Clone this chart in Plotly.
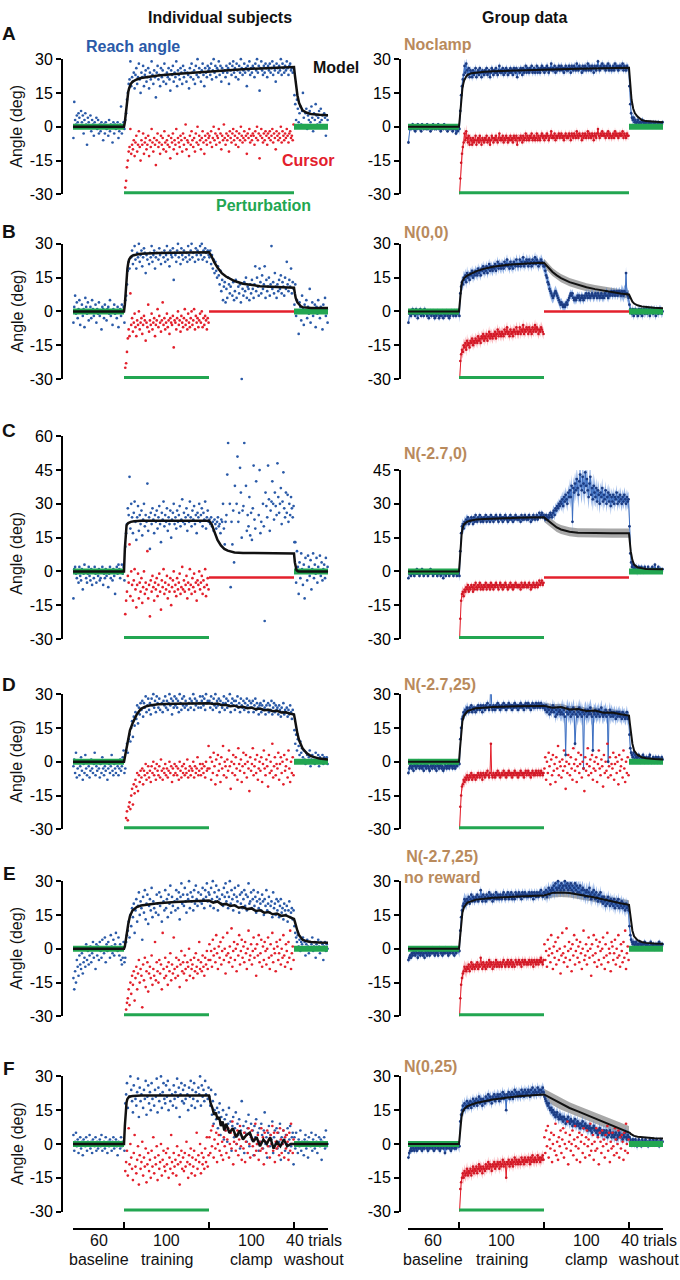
import plotly.graph_objects as go

W, H = 680, 1280
FONT = "Liberation Sans, Arial, sans-serif"

# ---------------- data ----------------
PHASE_BOUNDS = [0, 60, 160, 260, 300]
PHASE_COUNTS = ["60", "100", "100", "40 trials"]
PHASE_NAMES = ["baseline", "training", "clamp", "washout"]
PHASE_CENTERS = [30, 110, 210, 283]
PERTURB = -30

# ---- A: Noclamp (training lasts 200 trials) ----
A_ind_base = [-5, 11, 3, 1, 5, 2, 6, 4, 0, 7, 2, 5, -3, 3, 6, 1, -8, 4, 2, 0, 5, -2, 3, 1, -4, 2, 0, 4, -1, 3,
              -3, 1, -2, 2, 0, -6, 1, -3, 2, -1, 0, -4, 3, -2, 1, 0, -7, 2, -3, 1, -1, 0, 2, -5, -2, 1, 9, -3, 0, 2]
A_ind_train = [-1, 3, 6, 12, 15, 19, 21, 29, 18, 22,
               20, 24, 17, 23, 26, 19, 22, 28, 21, 15, 24, 22, 27, 18, 23, 25, 20, 22, 26, 17,
               24, 21, 29, 23, 19, 25, 22, 13, 24, 27, 21, 23, 18, 26, 22, 25, 20, 28, 23, 19,
               24, 22, 26, 21, 16, 25, 23, 27, 20, 24, 22, 29, 18, 25, 23, 21, 26, 24, 19, 27,
               22, 25, 31, 20, 24, 23, 17, 26, 22, 28, 24, 21, 25, 19, 27, 23, 30, 22, 26, 24,
               20, 25, 28, 23, 18, 26, 24, 22, 27, 25,
               26, 23, 28, 21, 25, 30, 24, 27, 22, 26, 25, 29, 23, 27, 20, 26, 24, 31, 25, 22,
               27, 24, 26, 19, 28, 25, 23, 27, 29, 24, 26, 22, 28, 25, 21, 27, 24, 30, 26, 23,
               25, 28, 24, 26, 18, 27, 25, 29, 23, 26, 24, 27, 26, 22, 28, 25, 30, 24, 27, 16,
               26, 29, 25, 23, 27, 24, 28, 26, 22, 27, 25, 28, 24, 26, 29, 23, 27, 25, 20, 28,
               26, 24, 27, 25, 30, 23, 28, 26, 24, 27, 25, 29, 26, 23, 27, 28, 25, 26, 24, 31]
A_ind_clamp = []
A_ind_wash = [14, 10, 3, 12, 8, 2, 6, 9, 1, 7, 15, 4, 0, 6, 8, -1, 5, 3, 7, 2,
              9, 4, -2, 6, 3, 10, 5, 1, 4, 7, 2, 8, 3, 5, 0, 6, 4, -4, 5, 3]
A_ind_model_t = [0, 60, 61, 62, 63, 64, 65, 66, 68, 70, 75, 80, 90, 100, 120, 140, 160, 180, 200, 220, 240, 260,
                 261, 262, 264, 266, 268, 270, 275, 280, 290, 300]
A_ind_model_v = [0, 0, 2, 6, 10, 13, 15.5, 17, 19, 20, 21, 21.6, 22.2, 22.7, 23.4, 24, 24.6, 25.1, 25.5, 25.9, 26.2, 26.5,
                 23, 19, 14, 10.5, 8.5, 7.3, 6.2, 5.7, 5.3, 5.1]

A_grp_base = [-7, -1, 0, -1, 0, 1, -1, 0, -2, 0, -1, 1, 0, -1, 0, -2, 1, 0, -1, 0, 0, -1, 1, -1, 0, 0, -2, 0, -1, 1,
              0, -1, 0, -1, 0, 1, -1, 0, -2, -1, 0, -1, 1, 0, -1, 0, -2, 0, -1, 0, -1, 0, -2, -1, 0, -1, -3, -1, -2, 0]
A_grp_train = [-1, 7, 14, 18, 21, 23, 27, 24, 28, 25, 23, 26, 22, 25, 24, 22, 25, 23, 24, 26,
               22, 24, 25, 23, 26, 24, 22, 25, 24, 23, 25, 24, 26, 23, 24, 25, 22, 24, 26, 25,
               23, 25, 24, 26, 24, 23, 25, 27, 24, 25, 24, 26, 23, 25, 24, 26, 25, 23, 25, 24,
               26, 24, 25, 23, 26, 25, 24, 26, 22, 25, 25, 24, 26, 25, 23, 26, 24, 25, 27, 24,
               26, 25, 24, 26, 25, 27, 24, 25, 26, 24, 25, 27, 24, 26, 25, 24, 26, 27, 25, 26,
               24, 26, 25, 27, 26, 24, 25, 26, 28, 25, 26, 25, 27, 24, 26, 25, 26, 27, 25, 26,
               27, 25, 26, 24, 26, 27, 25, 26, 25, 27, 26, 24, 27, 26, 25, 27, 26, 25, 28, 26,
               25, 27, 26, 26, 24, 27, 25, 26, 27, 25, 26, 28, 25, 27, 26, 25, 27, 26, 24, 27,
               26, 25, 27, 29, 26, 25, 27, 26, 28, 26, 27, 26, 25, 27, 26, 28, 25, 27, 26, 25,
               26, 27, 25, 28, 26, 27, 26, 25, 27, 26, 27, 26, 28, 25, 27, 26, 25, 27, 26, 26]
A_grp_clamp = []
A_grp_wash = [18, 10, 6, 4, 3, 4, 2, 3, 1, 2, 3, 1, 2, 2, 1, 3, 2, 1, 2, 1,
              2, 0, 1, 2, 1, 2, 1, 0, 2, 1, 1, 2, 0, 1, 2, 1, 0, 1, 1, 2]
A_grp_se = [1.2, 1, 1, 1, 1, 1.2, 3, 2, 1.8, 1.8, 1.8, 1.8, 1.8, 1.8, 1.8, 1.8, 1.8, 1.8, 1.8, 1.8,
            1.8, 1.8, 1.8, 1.8, 1.8, 1.8, 2, 1.5, 1.2, 1.2]
A_grp_model_t = [0, 60, 61, 62, 63, 64, 65, 66, 68, 70, 75, 80, 90, 100, 130, 160, 200, 260,
                 261, 262, 263, 265, 267, 270, 275, 280, 290, 300]
A_grp_model_v = [0, 0, 4, 10, 14, 17, 19, 20.5, 22, 23, 23.8, 24.1, 24.4, 24.6, 25, 25.4, 25.8, 26.2,
                 21, 16, 12, 8, 6, 4.5, 3, 2.5, 2.2, 2]
A_grp_model_se = 0

# ---- B: N(0,0) ----
B_ind_base = [-5, 2, 7, -1, 4, -3, 1, 5, -6, 0, 3, -2, 1, -7, 6, 2, -1, 4, -4, 0, 2, -3, 5, 1, -2, 0, 3, -5, 1, -1,
              4, -2, 0, -8, 2, 1, -3, 3, 0, -4, 1, 2, -1, 5, -2, 0, -6, 1, 3, -1, 0, -3, 2, -7, 0, 1, -2, 3, 0, 2]
B_ind_train = [-5, 5, 7, 12, 18, 22, 19, 38, 24, 27, 21, 25, 29, 23, 19, 26, 24, 30, 22, 25,
               27, 20, 24, 28, 26, 17, 25, 23, 33, 21, 26, 24, 29, 22, 25, 27, 19, 24, 26, 31,
               23, 28, 25, 21, 26, 34, 24, 27, 22, 25, 29, 23, 26, 20, 27, 25, 24, 28, 14, 26,
               25, 22, 27, 30, 24, 26, 21, 28, 25, 23, 27, 31, 24, 26, 22, 29, 25, 23, 27, 30,
               24, 26, 31, 22, 28, 25, 27, 23, 26, 29, 25, 30, 23, 27, 24, 28, 26, 22, 27, 25]
B_ind_clamp = [24, 27, 21, 25, 19, 23, 17, 22, 18, 15, 20, 16, 12, 18, 9, 14, 5, 11, 13, 4,
               10, 6, 15, 12, 8, 11, -31, 7, 13, 5, 9, 14, 6, -39, 11, 8, 12, 4, -30, 10,
               7, 13, 9, 15, 6, 11, 10, 5, 12, 8, 14, 10, 6, 12, 20, 9, 15, 11, 7, 19,
               13, 8, 16, 10, 12, 20, 6, 14, 9, 11, 15, 7, 12, 29, 10, 13, 8, 17, 11, 6,
               12, 9, 14, 10, 16, 8, 13, 11, 7, 15, 10, 22, 12, 9, 14, 11, 19, 8, 13, 10]
B_ind_wash = [3, 12, -2, 5, 0, -10, 4, 2, -4, 7, 1, -6, 3, 0, 5, -3, 2, -1, 10, -5,
              1, 4, -2, 0, 3, -7, 2, -1, 5, 0, -3, 2, 1, -8, 3, 0, 6, -2, 1, -5]
B_ind_model_t = [0, 60, 61, 62, 63, 64, 65, 66, 68, 70, 75, 80, 100, 130, 160, 163, 166, 170, 175, 180, 190, 200,
                 210, 220, 240, 260, 261, 262, 264, 266, 268, 270, 275, 280, 300]
B_ind_model_v = [0, 0, 3, 9, 15, 19, 21.5, 23, 24.2, 24.8, 25.3, 25.6, 25.9, 26.1, 26.3, 24.5, 22, 19.5, 17, 15.5,
                 13.5, 12.3, 11.6, 11.2, 10.8, 10.5, 8, 6, 4, 3, 2.3, 1.9, 1.6, 1.5, 1.5]

B_grp_base = [-5, -1, 0, -2, -1, 1, -1, 0, -2, 1, -1, -3, 0, -1, 1, -2, 0, -1, -2, 1, 0, -1, -2, 0, -3, -1, 0, -2, -1, 0,
              -2, -3, -1, -2, 0, -1, -3, -2, -1, -2, 0, -3, -1, -2, -1, 0, -2, -1, -3, -2, -1, 0, -1, -2, 0, -1, -2, 0, -1, 0]
B_grp_train = [-2, 8, 11, 13, 12, 15, 14, 16, 13, 17, 15, 16, 14, 17, 16, 18, 15, 17, 16, 18,
               17, 16, 19, 17, 18, 16, 19, 18, 20, 17, 19, 18, 20, 17, 19, 21, 18, 20, 19, 18,
               20, 19, 21, 18, 20, 22, 19, 21, 20, 19, 21, 20, 19, 22, 20, 21, 23, 20, 21, 19,
               22, 20, 21, 19, 22, 21, 20, 23, 21, 20, 21, 23, 20, 22, 21, 24, 20, 22, 21, 23,
               22, 20, 23, 21, 22, 20, 23, 21, 22, 24, 21, 23, 22, 20, 22, 21, 23, 22, 21, 20]
B_grp_clamp = [20, 18, 16, 15, 13, 12, 10, 9, 8, 7, 6, 7, 8, 9, 8, 7, 6, 5, 4, 3,
               4, 3, 2, 3, 2, 3, 4, 3, 5, 6, 7, 8, 7, 8, 6, 5, 6, 5, 6, 7,
               6, 7, 5, 6, 7, 6, 5, 7, 6, 8, 7, 6, 8, 7, 6, 7, 8, 7, 6, 7,
               8, 7, 6, 8, 7, 6, 7, 8, 6, 7, 6, 8, 7, 9, 7, 6, 8, 7, 8, 9,
               7, 8, 9, 7, 8, 9, 7, 8, 9, 8, 7, 9, 8, 7, 9, 8, 17, 8, 7, 6]
B_grp_wash = [3, 1, 0, -1, 1, -2, 0, 1, -1, 0, -2, 1, 0, -1, 1, -2, 0, 1, -1, 0,
              1, -1, 0, 1, -2, 0, 1, 0, -1, 1, 0, -2, 1, 0, -1, 1, 0, 1, -1, 0]
B_grp_se = [1.5, 1.5, 1.5, 1.5, 1.5, 1.5, 3, 2.5, 2.5, 2.5, 2.5, 2.5, 2.5, 2.5, 2.5, 2.5,
            3, 2.5, 2, 2, 2, 2, 2, 2, 2, 3, 2, 2, 2, 2]
B_grp_model_t = [0, 60, 61, 62, 63, 64, 66, 70, 80, 90, 100, 115, 130, 145, 160, 165, 170, 175, 180, 190, 200, 210,
                 220, 230, 240, 250, 260, 261, 262, 264, 266, 270, 275, 280, 290, 300]
B_grp_model_v = [0, 0, 4, 9, 12, 13.5, 14.8, 16, 17.8, 19, 19.8, 20.6, 21.1, 21.4, 21.6, 19.5, 17.5, 16, 14.8, 13,
                 11.7, 10.7, 9.9, 9.2, 8.6, 8, 7.5, 6.5, 5.5, 4.3, 3.5, 2.7, 2.2, 1.9, 1.6, 1.4]
B_grp_model_se = 1.8
B_clamp_cursor = 0

# ---- C: N(-2.7,0) ----
C_ind_base = [-12, 1, 2, -1, -3, 0, -5, 2, -2, -4, 1, -8, -1, 3, 0, -3, -5, -1, 2, -2, -4, 1, -6, 0, -3, 2, -1, -5, 0, -2,
              1, -4, -3, 0, 2, -6, -1, -3, 1, -2, 0, -7, -1, 2, -3, 0, -4, 1, -2, -10, 0, 2, -1, 3, 1, -3, 0, 3, -1, 2]
C_ind_train = [-4, 11, 17, 21, 28, 25, 42, 19, 30, 24, 17, 26, 31, 22, 14, 24, 29, 18, 25, 21,
               27, 16, 23, 30, 20, 25, 22, 39, 18, 24, 10, 26, 21, 28, 23, 17, 25, 22, 27, 19,
               24, 29, 21, 13, 26, 23, 31, 20, 25, 22, 28, 18, 24, 21, 27, 15, 23, 26, 30, 21,
               24, 19, 27, 22, 25, 29, 20, 23, 32, 22, 26, 21, 24, 28, 18, 25, 22, 31, 24, 20,
               27, 23, 29, 21, 25, 17, 26, 24, 30, 22, 25, 28, 20, 26, 23, 31, 19, 24, 27, 22]
C_ind_clamp = [23, 21, 24, 20, 22, 18, 23, 21, 19, 22, 24, 20, 21, 17, 23, 22, 30, 19, 12, 22,
               25, 43, 57, 70, 30, -7, 22, 12, 27, 4, 38, 65, 30, 51, 22, 26, 46, 35, 15, 27,
               29, 57, 65, 38, 18, 25, 20, 33, 16, 26, 14, 28, 47, 23, 19, 40, 61, 70, 25, 45,
               17, 22, 61, 30, 20, -22, 35, 29, 24, 47, 32, 18, 27, 31, 40, 30, 23, 35, 29, 25,
               48, 33, 26, 30, 37, 21, 31, 44, 28, 24, 35, 26, 34, 22, 30, 25, 33, 28, 24, 29]
C_ind_wash = [13, 13, -5, 9, 2, -10, 4, -3, 8, 1, -6, 3, -12, 6, 0, -4, 7, 2, -2, 5,
              -8, 1, 8, -3, 3, -1, 6, -5, 2, 0, 7, -2, 4, -4, 1, 3, -3, 6, 0, 2]
C_ind_model_t = [0, 60, 61, 62, 63, 65, 68, 72, 80, 100, 130, 160, 163, 166, 170, 174, 178, 182, 186, 190, 200, 220,
                 260, 261, 262, 263, 265, 300]
C_ind_model_v = [0, 0, 10, 18, 20.5, 21.5, 22, 22.3, 22.5, 22.5, 22.5, 22.5, 21, 18, 14, 11.5, 10, 9.2, 8.7, 8.4, 8.2,
                 8.1, 8, 4, 1.5, 0.5, 0, 0]

C_grp_base = [-3, -1, 0, -2, -1, 0, -1, -2, 0, -1, 1, -1, 0, -2, -1, 0, 1, -1, -2, 0, -1, 0, -1, -2, 0, -1, 1, 0, -1, -2,
              0, -1, 0, -1, -2, -1, 0, -1, -2, -1, 0, -3, -1, 0, -2, -1, 0, -1, -2, 0, -1, 0, -1, -2, -1, 0, -1, -2, 0, -1]
C_grp_train = [-2, 9, 17, 20, 21, 19, 22, 21, 23, 22, 24, 21, 23, 22, 24, 23, 21, 24, 22, 25,
               23, 22, 24, 23, 25, 22, 24, 23, 22, 24, 23, 25, 22, 24, 23, 24, 22, 25, 23, 24,
               22, 24, 23, 25, 24, 23, 22, 24, 25, 23, 24, 22, 24, 23, 25, 24, 23, 22, 24, 23,
               25, 23, 24, 22, 24, 23, 25, 24, 23, 24, 23, 24, 22, 25, 23, 24, 23, 25, 24, 23,
               24, 23, 25, 24, 22, 24, 23, 25, 24, 23, 24, 25, 23, 24, 26, 24, 25, 26, 24, 25]
C_grp_clamp = [24, 23, 25, 24, 23, 25, 24, 26, 25, 24, 26, 27, 25, 28, 27, 29, 28, 30, 29, 31,
               30, 32, 29, 33, 31, 34, 32, 30, 35, 33, 36, 33, 38, 22, 37, 35, 39, 36, 41, 37,
               34, 40, 43, 38, 36, 42, 39, 35, 44, 38, 41, 36, 33, 39, 42, 34, 37, 32, 38, 35,
               33, 37, 31, 36, 34, 30, 35, 33, 37, 31, 34, 32, 36, 30, 33, 35, 31, 34, 29, 33,
               31, 34, 30, 33, 32, 35, 30, 33, 31, 34, 32, 30, 33, 31, 34, 32, 30, 33, 31, 32]
C_grp_wash = [20, 8, 4, 2, 3, 1, 2, 1, 2, 0, 1, 2, 1, 0, 2, 1, 1, 0, 2, 1,
              0, 1, 2, 1, 0, 1, 1, 2, 0, 1, 3, 1, 0, 1, 2, 0, 1, 1, 0, 1]
C_grp_se = [1, 1, 1, 1, 1, 1, 2.5, 1.5, 1.5, 1.5, 1.5, 1.5, 1.5, 1.5, 1.5, 1.5,
            1.5, 2.5, 3.5, 5, 6, 5.5, 4.5, 4, 3.5, 3.5, 2, 1.5, 1.2, 1.2]
C_grp_model_t = [0, 60, 61, 62, 63, 64, 66, 70, 80, 90, 100, 130, 160, 165, 170, 175, 180, 190, 200, 220, 240, 260,
                 261, 262, 264, 266, 270, 275, 280, 300]
C_grp_model_v = [0, 0, 5, 12, 16, 19, 21, 22.2, 23, 23.3, 23.5, 23.8, 24, 22.5, 20.8, 19.5, 18.6, 17.6, 17.2, 17,
                 17, 17, 13, 9, 5, 3, 1.8, 1.3, 1.1, 1]
C_grp_model_se = 2
C_clamp_cursor = -2.7

# ---- D: N(-2.7,25) ----
D_ind_base = [-2, 1, -5, 4, -7, -3, 0, -6, -2, 2, -4, -8, -1, -5, 3, -3, -6, 0, -2, -7, -4, 1, -3, -5, -1, 4, -6, -2, -4, 0,
              -3, -7, -1, -5, 2, -3, -6, -2, -4, 0, -8, -3, -1, -5, -2, 3, -4, -6, -1, -3, -5, 0, -2, -6, -3, 1, -4, -2, 2, 5]
D_ind_train = [-5, -3, 5, 8, 4, 10, 12, 9, 15, 18, 11, 20, 16, 22, 19, 25, 17, 24, 21, 26,
               23, 27, 20, 26, 24, 29, 22, 25, 28, 23, 26, 21, 28, 25, 30, 24, 27, 22, 29, 26,
               24, 28, 23, 31, 26, 22, 27, 25, 29, 24, 27, 23, 26, 30, 25, 28, 21, 27, 24, 29,
               25, 28, 24, 27, 22, 30, 26, 23, 28, 25, 29, 24, 27, 25, 31, 23, 26, 28, 24, 27,
               26, 30, 23, 28, 25, 27, 32, 24, 26, 29, 24, 27, 29, 25, 28, 23, 30, 26, 27, 37]
D_ind_clamp = [27, 24, 29, 26, 23, 28, 25, 30, 24, 27, 25, 28, 22, 27, 31, 24, 26, 29, 23, 26,
               28, 24, 27, 25, 30, 22, 26, 28, 25, 27, 23, 27, 25, 29, 24, 26, 22, 28, 25, 24,
               27, 23, 26, 24, 28, 25, 22, 27, 24, 26, 24, 27, 22, 25, 28, 23, 26, 24, 21, 25,
               26, 22, 25, 23, 27, 24, 21, 25, 23, 26, 22, 25, 23, 27, 21, 24, 26, 22, 25, 23,
               24, 21, 25, 23, 20, 24, 22, 26, 21, 23, 22, 24, 20, 23, 21, 25, 22, 19, 23, 21]
D_ind_wash = [14, 8, 12, 5, 10, 7, 3, 9, 4, 6, 2, 5, 1, -1, 4, 3, 0, 2, 5, -2,
              1, 3, 0, 2, -1, 4, 1, 0, 3, -2, 2, 1, 0, 3, -1, 2, 0, 1, 2, -1]
D_clamp_cursor = [-3, 2, -8, 0, -5, 4, -2, -10, 1, -6, 3, -4, -1, -9, 2, -3, 7, -6, 0, -2,
                  -7, 1, -4, 5, -2, -12, 0, -5, 3, -1, -6, 2, -3, -8, 6, -1, -4, 1, -9, -2,
                  4, -5, -1, 3, -7, 0, -3, -13, 2, -4, -1, 6, -6, -2, 1, -5, 3, -8, -3, 0,
                  -4, 2, -9, -1, 5, -3, -6, 1, -2, -11, 3, -5, 0, -4, 8, -7, -2, 2, -6, -1,
                  -3, 4, -8, -1, 2, -5, 0, -10, 3, -4, -2, 1, -7, 5, -3, -9, 0, -5, 2, -6]
D_ind_model_t = [0, 60, 61, 62, 63, 65, 67, 70, 75, 80, 85, 90, 100, 120, 140, 160, 165, 170, 175, 180, 185, 190, 195,
                 200, 205, 210, 215, 220, 225, 230, 235, 240, 245, 250, 255, 260, 261, 262, 264, 266, 268, 270, 275,
                 280, 290, 300]
D_ind_model_v = [0, 0, 2, 4, 7, 11, 14, 17, 21, 23.5, 24.5, 25, 25.5, 25.8, 26, 26, 25.6, 25.8, 25.1, 25.3, 24.6, 24.9,
                 24.2, 24.4, 23.8, 24, 23.3, 23.6, 22.9, 23.1, 22.4, 22.6, 21.9, 22, 21.4, 21, 19, 16.5, 12.5, 9.5,
                 7.5, 6, 3.8, 2.5, 1.4, 1]

D_grp_base = [-5, -3, -2, -1, -3, -2, -4, -1, -2, -3, -1, -2, 0, -3, -2, -1, -3, -2, -4, -1, -2, -3, -1, -2, -3, -4, -2, -1, -3, -2,
              -1, -3, -2, -4, -1, -2, -3, -2, -1, -3, -2, -4, -3, -1, -2, -3, -2, -1, -3, -2, -1, -2, -3, -1, -2, -3, -1, -2, 0, -1]
D_grp_train = [-1, 10, 15, 19, 20, 22, 21, 23, 22, 24, 23, 22, 24, 23, 25, 22, 24, 23, 24, 22,
               24, 23, 25, 24, 23, 25, 24, 22, 25, 24, 23, 25, 24, 26, 24, 23, 25, 38, 24, 23,
               25, 24, 23, 25, 24, 26, 24, 25, 23, 24, 25, 24, 26, 24, 25, 23, 25, 24, 26, 25,
               24, 25, 23, 25, 24, 26, 25, 24, 25, 23, 25, 24, 26, 25, 24, 25, 23, 25, 26, 24,
               25, 26, 24, 25, 23, 25, 26, 24, 25, 24, 26, 25, 24, 26, 25, 24, 26, 25, 24, 25]
D_grp_clamp = [24, 23, 25, 22, 24, 23, 21, 24, 22, 23, 25, 22, 24, 20, 23, 21, 24, 22, 23, 21,
               22, 24, 21, 23, 20, 3, 22, 24, 21, 23, 22, 20, 23, 21, 24, 22, 8, 21, 23, 20,
               22, 24, 21, 23, 20, 22, -3, 21, 23, 22, 20, 23, 21, 22, 24, 21, 20, 5, 22, 21,
               23, 20, 22, 21, 23, 20, 22, 24, 21, 20, 22, 21, 23, 20, 22, 0, 21, 23, 20, 22,
               21, 20, 22, 21, 19, 22, 20, 21, 22, 20, 21, 19, 22, 20, 21, 19, 20, 22, 19, 20]
D_grp_wash = [12, 6, 4, 3, 2, 4, 1, 3, 2, 1, 2, 3, 1, 0, 2, 1, 3, 2, 0, 1,
              2, 1, 0, 2, 3, 1, 0, 1, 2, 0, 1, 2, 1, 0, 2, 1, 1, 0, 2, 1]
D_grp_se = [1.5, 1.5, 1.5, 1.5, 1.5, 1.5, 2.5, 1.8, 1.8, 1.8, 1.8, 1.8, 1.8, 1.8, 1.8, 1.8,
            2.5, 3, 4, 4, 4, 4, 3.5, 3.5, 3, 3, 2, 1.5, 1.5, 1.5]
D_grp_model_t = [0, 60, 61, 62, 63, 64, 66, 70, 80, 100, 130, 160, 170, 180, 190, 200, 210, 220, 230, 240, 250, 260,
                 261, 262, 264, 266, 270, 275, 280, 290, 300]
D_grp_model_v = [0, 0, 5, 11, 15, 18, 20.5, 22.5, 23.8, 24.3, 24.6, 24.8, 24, 24.3, 23.2, 23.4, 22.5, 22.7, 21.8,
                 21.9, 21.1, 20.5, 17, 13, 8, 5, 3, 2, 1.6, 1.2, 1]
D_grp_model_se = 1.5

# ---- E: N(-2.7,25) no reward ----
E_ind_base = [-13, -18, -10, -15, -5, -8, -12, -3, -7, -9, -2, -11, -6, -4, -8, 2, -5, -1, -7, -3,
              1, -6, -2, 3, -4, 0, -9, 2, -3, 1, -5, 3, -1, -4, 4, 0, -2, 5, -6, 2,
              -1, 3, 0, -4, 6, 1, -2, 4, -3, 2, 7, 0, -1, 5, -3, 2, -5, -7, -4, 3]
E_ind_train = [-6, -4, 3, 6, 8, 12, 5, 15, 10, 18, 14, 20, 7, 17, 22, 12, 19, 25, 15, 21,
               18, 4, 23, 16, 26, 13, 20, 24, 11, 19, 22, 17, 27, 14, 21, 18, 33, 16, 24, 20,
               15, 25, 19, 23, 12, 37, 21, 17, 26, 18, 22, 14, 24, 20, 28, 16, 23, 19, 35, 21,
               17, 26, 22, 18, 25, 13, 23, 29, 20, 24, 19, 27, 21, 16, 24, 22, 30, 18, 25, 21,
               23, 17, 26, 20, 28, 22, 19, 25, 33, 21, 24, 20, 27, 22, 18, 26, 23, 29, 21, 25]
E_ind_clamp = [24, 19, 27, 22, 30, 18, 25, 21, 28, 23, 17, 26, 22, 36, 20, 24, 19, 27, 23, 29,
               21, 25, 18, 23, 30, 20, 26, 22, 17, 24, 27, 19, 23, 21, 28, 16, 24, 20, 25, 18,
               22, 26, 19, 24, 17, 23, 29, 20, 21, 25, 18, 22, 26, 19, 23, 16, 21, 25, 18, 22,
               20, 17, 24, 21, 15, 22, 19, 26, 17, 20, 23, 16, 19, 21, 14, 25, 18, 20, 15, 22,
               17, 21, 14, 19, 22, 16, 18, 13, 20, 17, 15, 19, 12, 17, 21, 14, 16, 18, 13, 17]
E_ind_wash = [10, 7, 5, 3, 6, 1, 4, -1, 3, 2, 5, 0, 3, -3, 2, 4, 1, -2, 3, 0,
              2, 5, -1, 1, 3, -4, 2, 0, 4, 1, -2, 3, 0, 2, -5, 1, 3, -1, 2, 0]
E_clamp_cursor = [2, -5, -1, -8, 4, -3, 0, -6, 6, -2, -9, 1, -4, 3, -7, -1, 5, -5, 0, -11,
                  -3, 7, -2, -6, 1, -4, 9, -8, -1, 3, -5, 0, -10, 2, -3, 6, -7, -1, 4, -4,
                  1, -6, 3, -2, -9, 0, 8, -5, -3, 2, -7, -1, 5, -4, 0, -12, 2, -3, 6, -6,
                  -2, 4, -8, 1, -5, 3, -1, -7, 0, 5, -4, -9, 2, -3, 7, -6, 0, -2, -10, 3,
                  1, -5, -2, 4, -7, 0, -4, 6, -3, -8, 2, -1, -6, 3, -4, 8, -9, -2, 1, -5]
E_ind_model_t = [0, 60, 61, 62, 63, 65, 67, 70, 75, 80, 90, 100, 120, 140, 160, 165, 170, 175, 180, 185, 190, 195,
                 200, 205, 210, 215, 220, 225, 230, 235, 240, 245, 250, 255, 260, 261, 262, 264, 266, 268, 270,
                 275, 280, 290, 300]
E_ind_model_v = [0, 0, 1, 3, 6, 11, 14.5, 17, 18.5, 19.2, 19.8, 20.2, 20.7, 21.1, 21.4, 20.5, 21, 19.6, 19.9, 19,
                 19.3, 18.2, 18.5, 17.6, 17.9, 16.8, 17.1, 16, 16.3, 15.3, 15.6, 14.6, 14.9, 14, 13.2, 12, 10.5,
                 8, 6, 4.8, 4, 3.3, 3, 2.8, 2.7]

E_grp_base = [-5, -4, -3, -4, -2, -3, -1, -2, -3, -1, -2, -4, -2, -1, -3, -2, -1, -3, -2, -4, -1, -2, -3, -1, -2, -3, -1, -2, 0, -2,
              -1, -3, -2, -1, -2, -3, -1, 0, -2, -1, -3, -2, -1, -2, 0, -1, -2, -3, -1, -2, -1, 0, -2, -1, -3, -1, -2, 0, -1, -1]
E_grp_train = [-1, 8, 14, 17, 19, 20, 22, 21, 20, 22, 21, 23, 20, 22, 24, 21, 23, 22, 21, 23,
               22, 24, 21, 23, 22, 26, 23, 21, 24, 22, 23, 21, 24, 22, 23, 25, 22, 24, 23, 21,
               24, 22, 23, 25, 22, 24, 23, 22, 24, 23, 22, 24, 25, 23, 22, 24, 23, 25, 22, 24,
               23, 25, 22, 24, 23, 22, 25, 24, 23, 24, 25, 23, 24, 22, 25, 24, 23, 25, 24, 23,
               24, 23, 25, 24, 23, 25, 24, 22, 25, 24, 23, 25, 24, 23, 25, 24, 26, 24, 23, 25]
E_grp_clamp = [25, 24, 26, 23, 25, 27, 24, 26, 25, 27, 26, 28, 25, 29, 27, 26, 30, 27, 28, 26,
               29, 27, 28, 26, 30, 28, 27, 29, 26, 28, 27, 29, 26, 28, 25, 27, 29, 26, 28, 25,
               27, 25, 28, 24, 26, 27, 24, 26, 23, 25, 26, 23, 25, 27, 24, 22, 25, 23, 26, 24,
               22, 25, 23, 21, 24, 22, 25, 21, 23, 20, 23, 21, 19, 22, 20, 23, 21, 19, 22, 20,
               21, 19, 22, 18, 20, 21, 19, 22, 18, 20, 19, 21, 18, 20, 19, 17, 20, 18, 19, 17]
E_grp_wash = [10, 6, 4, 3, 2, 3, 1, 2, 3, 1, 2, 1, 3, 2, 1, 2, 0, 2, 3, 1,
              2, 1, 2, 0, 1, 3, 2, 1, 2, 1, 0, 2, 1, 2, 1, 3, 1, 2, 1, 2]
E_grp_se = [1.5, 1.5, 1.5, 1.5, 1.5, 1.5, 3, 2, 2, 2, 2, 2, 2, 2, 2, 2,
            3, 3.5, 3.5, 3.5, 3.5, 3.5, 3, 3, 3, 3, 2, 1.5, 1.5, 1.5]
E_grp_model_t = [0, 60, 61, 62, 63, 64, 66, 70, 80, 100, 130, 160, 170, 180, 190, 200, 210, 220, 230, 240, 250, 260,
                 261, 262, 264, 266, 270, 275, 280, 290, 300]
E_grp_model_v = [0, 0, 4, 9, 13, 16, 18.5, 20.5, 21.8, 22.6, 23.2, 23.6, 24.8, 25, 24.7, 24.2, 23.4, 22.7, 21.8, 21,
                 20.2, 19.5, 16, 12.5, 8, 5.5, 3.8, 3, 2.6, 2.3, 2.2]
E_grp_model_se = 2

# ---- F: N(0,25) ----
F_ind_base = [4, -3, 1, 5, -1, 2, -4, 0, 3, -2, 1, -5, 2, 0, -1, 3, -3, 1, 0, 4, -2, 1, -4, 2, 0, -1, 3, -3, 1, -2,
              0, 2, -1, 4, -3, 0, 1, -2, 3, 0, -4, 1, -1, 2, 0, -3, 1, 3, -2, 0, 2, -1, -5, 1, 0, -2, 3, -1, 1, 0]
F_ind_train = [-3, 18, 22, 27, 16, 37, 21, 30, 24, 19, 14, 26, 34, 20, 17, 23, 29, 12, 25, 19,
               22, 31, 16, 24, 20, 28, 13, 21, 26, 18, 23, 15, 27, 20, 33, 17, 24, 21, 29, 14,
               25, 19, 22, 30, 16, 23, 27, 20, 18, 26, 21, 28, 15, 24, 19, 34, 22, 17, 26, 20,
               23, 16, 29, 21, 25, 12, 22, 27, 19, 24, 18, 26, 20, 31, 22, 15, 25, 21, 28, 17,
               24, 20, 27, 16, 23, 35, 19, 25, 22, 30, 17, 26, 21, 24, 19, 28, 22, 33, 20, 25]
F_ind_clamp = [21, 17, 24, 13, 19, 9, 15, 22, 11, 16, 7, 14, 18, 4, 12, 9, 15, 2, 11, 6,
               13, 1, 9, 16, 5, 10, -3, 8, 12, 3, 7, 14, 0, 9, 4, 11, -2, 6, 19, 3,
               8, -4, 5, 10, 1, 7, 13, -1, 4, 9, 2, 6, -5, 8, 3, 11, 0, 5, -3, 7,
               1, 9, 4, -2, 6, 14, 0, 3, -6, 5, 8, -1, 4, 2, 10, -4, 3, 6, 0, 7,
               -2, 5, 1, 9, -7, 3, 0, 6, 2, -3, 4, 0, 7, -4, 2, 8, -1, 3, 5, -9]
F_ind_wash = [3, -2, 5, 0, -4, 2, -1, 6, -3, 1, 0, -5, 2, 4, -2, 1, -6, 3, 0, -1,
              5, -3, 2, 0, -2, 4, 1, -4, 0, 3, -1, 2, -7, 1, 0, 3, -2, 6, -1, 0]
F_clamp_cursor = [3, -4, 6, -1, 8, -6, 2, -2, 5, -8, 0, 4, -3, 9, -5, 1, -7, 3, -1, 6,
                  -4, 2, 7, -6, 0, 5, -2, 10, -9, 1, 4, -3, 0, 6, -5, 2, 8, -1, -7, 3,
                  -2, 5, -8, 1, 4, -4, 7, 0, -6, 3, 6, -1, 2, -5, 9, -3, 0, 4, -7, 1,
                  -3, 7, -2, 3, -9, 5, 1, -4, 6, -1, 2, -6, 4, 0, 8, -3, 5, -8, 1, -2,
                  5, -1, -5, 7, 2, -4, 0, 6, -6, 3, -2, 4, 1, -7, 5, -3, 9, 0, -4, 2]
F_ind_model_t = [0, 60, 61, 62, 63, 64, 66, 70, 80, 100, 160, 162, 164, 166, 168, 170, 172, 174, 176, 178, 180, 184,
                 188, 192, 196, 200, 204, 208, 212, 216, 220, 224, 228, 232, 236, 240, 244, 248, 252, 256, 260, 300]
F_ind_model_v = [0, 0, 8, 15, 18.5, 20, 21, 21.3, 21.5, 21.5, 21.5, 18, 16, 13, 14, 11, 12, 8, 10, 6, 9, 5, 7, 3, 6,
                 2, 4, 5, 1, 3, -1, 2, 0, 3, -2, 1, -1, 2, -1, 0, 0, 0]

F_grp_base = [-6, -4, -3, -2, -3, -1, -2, -3, -1, -2, -3, -1, -2, 0, -2, -1, -3, -2, -1, -2, 0, -1, -2, -3, -1, -2, -1, 0, -2, -1,
              -3, -1, -2, 0, -1, -2, -1, -3, -2, -1, 0, -2, -1, -4, -1, -2, -1, 0, -2, -1, -3, -2, -1, 0, -2, -1, -2, -1, 0, -1]
F_grp_train = [-1, 10, 13, 15, 17, 15, 18, 16, 17, 19, 16, 18, 17, 19, 16, 18, 20, 17, 19, 18,
               20, 17, 19, 21, 18, 20, 19, 17, 20, 19, 18, 21, 19, 20, 22, 19, 21, 20, 18, 21,
               20, 22, 19, 21, 20, 22, 21, 19, 22, 20, 21, 23, 20, 22, 21, 15, 22, 21, 23, 20,
               22, 21, 23, 20, 22, 24, 21, 23, 22, 21, 23, 22, 21, 24, 22, 23, 21, 24, 22, 23,
               22, 24, 23, 21, 24, 22, 25, 23, 22, 24, 23, 22, 25, 23, 24, 22, 24, 23, 25, 23]
F_grp_clamp = [21, 20, 19, 18, 17, 18, 16, 15, 16, 14, 15, 13, 14, 12, 13, 14, 12, 11, 13, 12,
               11, 12, 10, 12, 11, 9, 11, 10, 12, 10, 9, 11, 10, 8, 10, 9, 11, 8, 9, 10,
               8, 9, 7, 9, 8, 10, 7, 8, 9, 7, 8, 6, 7, 8, 6, 7, 5, 7, 8, 6,
               7, 5, 6, 4, 6, 7, 5, 6, 4, 5, 6, 4, 5, 6, 3, 5, 4, 6, 5, 3,
               4, 5, 3, 4, 5, 2, 4, 3, 5, 4, 3, 4, 2, 4, 3, 5, 3, 2, 4, 3]
F_grp_wash = [3, 2, 1, 0, 2, 1, 0, 2, 1, -1, 1, 2, 0, 1, -1, 2, 1, 0, 1, 2,
              0, 1, -1, 1, 2, 0, 1, 0, 2, 1, 0, 1, 2, 0, 1, -1, 1, 2, 0, 1]
F_grp_se = [1.5, 1.5, 1.5, 1.5, 1.5, 1.5, 3, 2.5, 2.5, 2.5, 2.5, 2.5, 2.5, 2.5, 2.5, 2.5,
            2.5, 2.5, 2.5, 2.5, 2.5, 2.5, 2.5, 2.5, 2.5, 2.5, 2, 1.5, 1.5, 1.5]
F_grp_model_t = [0, 60, 61, 62, 63, 64, 66, 70, 80, 100, 130, 160, 165, 170, 175, 180, 190, 200, 210, 220, 230, 240,
                 250, 260, 261, 262, 264, 266, 270, 275, 280, 290, 300]
F_grp_model_v = [0, 0, 4, 9, 12, 14, 15.5, 16.8, 18.2, 19.8, 21.2, 22, 21, 19.8, 18.7, 17.7, 16, 14.5, 13, 11.5, 10,
                 8.5, 7, 5.5, 5, 4.5, 4, 3.6, 3.2, 3, 2.8, 2.6, 2.5]
F_grp_model_se = 2.5

LETTERS = ["A", "B", "C", "D", "E", "F"]
CONDITIONS = ["Noclamp", "N(0,0)", "N(-2.7,0)", "N(-2.7,25)", "N(-2.7,25)<br>no reward", "N(0,25)"]

# ---------------- styling / layout ----------------
BLUE = "#2a5aa8"
BLUE_DARK = "#1c3c82"
BLUE_LINE = "#3c6ec0"
RED = "#e3202c"
RED_DARK = "#d01826"
GREEN = "#22a651"
TAN = "#b98a5c"
BLACK = "#111111"
S = 2.283  # px per degree

ROWS = [
    dict(zero=120.35, ind_rng=[-30, 30], grp_rng=[-30, 30], letter_y=26, cond_y=36.7),
    dict(zero=307.5, ind_rng=[-30, 30], grp_rng=[-30, 30], letter_y=227, cond_y=228),
    dict(zero=571.0, ind_rng=[-30, 60], grp_rng=[-30, 45], letter_y=428, cond_y=451.7, title_y=553),
    dict(zero=763.9, ind_rng=[-30, 30], grp_rng=[-30, 30], letter_y=686, cond_y=686),
    dict(zero=953.4, ind_rng=[-30, 30], grp_rng=[-30, 30], letter_y=877, cond_y=870.5),
    dict(zero=1151.3, ind_rng=[-30, 30], grp_rng=[-30, 30], letter_y=1075, cond_y=1073),
]

DATA = {
    "A": dict(ib=A_ind_base, it=A_ind_train, ic=A_ind_clamp, iw=A_ind_wash, imt=A_ind_model_t, imv=A_ind_model_v,
              gb=A_grp_base, gt=A_grp_train, gc=A_grp_clamp, gw=A_grp_wash, gse=A_grp_se,
              gmt=A_grp_model_t, gmv=A_grp_model_v, gmse=A_grp_model_se, cur=None),
    "B": dict(ib=B_ind_base, it=B_ind_train, ic=B_ind_clamp, iw=B_ind_wash, imt=B_ind_model_t, imv=B_ind_model_v,
              gb=B_grp_base, gt=B_grp_train, gc=B_grp_clamp, gw=B_grp_wash, gse=B_grp_se,
              gmt=B_grp_model_t, gmv=B_grp_model_v, gmse=B_grp_model_se, cur=B_clamp_cursor),
    "C": dict(ib=C_ind_base, it=C_ind_train, ic=C_ind_clamp, iw=C_ind_wash, imt=C_ind_model_t, imv=C_ind_model_v,
              gb=C_grp_base, gt=C_grp_train, gc=C_grp_clamp, gw=C_grp_wash, gse=C_grp_se,
              gmt=C_grp_model_t, gmv=C_grp_model_v, gmse=C_grp_model_se, cur=C_clamp_cursor),
    "D": dict(ib=D_ind_base, it=D_ind_train, ic=D_ind_clamp, iw=D_ind_wash, imt=D_ind_model_t, imv=D_ind_model_v,
              gb=D_grp_base, gt=D_grp_train, gc=D_grp_clamp, gw=D_grp_wash, gse=D_grp_se,
              gmt=D_grp_model_t, gmv=D_grp_model_v, gmse=D_grp_model_se, cur=D_clamp_cursor),
    "E": dict(ib=E_ind_base, it=E_ind_train, ic=E_ind_clamp, iw=E_ind_wash, imt=E_ind_model_t, imv=E_ind_model_v,
              gb=E_grp_base, gt=E_grp_train, gc=E_grp_clamp, gw=E_grp_wash, gse=E_grp_se,
              gmt=E_grp_model_t, gmv=E_grp_model_v, gmse=E_grp_model_se, cur=E_clamp_cursor),
    "F": dict(ib=F_ind_base, it=F_ind_train, ic=F_ind_clamp, iw=F_ind_wash, imt=F_ind_model_t, imv=F_ind_model_v,
              gb=F_grp_base, gt=F_grp_train, gc=F_grp_clamp, gw=F_grp_wash, gse=F_grp_se,
              gmt=F_grp_model_t, gmv=F_grp_model_v, gmse=F_grp_model_se, cur=F_clamp_cursor),
}


def seq(start, vals):
    return [start + i + 0.5 for i in range(len(vals))]


def pxx(v):
    return v / W


def pxy(v):
    return 1 - v / H


fig = go.Figure()
annotations = []
layout_axes = {}


def ann(text, x, y, color=BLACK, size=16, bold=True, xanchor="center", angle=0):
    annotations.append(dict(
        text=f"<b>{text}</b>" if bold else text, x=pxx(x), y=pxy(y), xref="paper", yref="paper",
        xanchor=xanchor, yanchor="middle", showarrow=False, textangle=angle,
        font=dict(family=FONT, size=size, color=color)))


def add(tr, xa, ya):
    tr.update(xaxis=xa, yaxis=ya, showlegend=False, hoverinfo="skip")
    fig.add_trace(tr)


DOT = 2.7

for r, (letter, row) in enumerate(zip(LETTERS, ROWS)):
    d = DATA[letter]
    train_end = 60 + len(d["it"])
    for c in (0, 1):
        k = 2 * r + c + 1
        xa = "x" if k == 1 else f"x{k}"
        ya = "y" if k == 1 else f"y{k}"
        rng = row["ind_rng"] if c == 0 else row["grp_rng"]
        top = row["zero"] - rng[1] * S
        bot = row["zero"] - rng[0] * S
        x0, x1 = (73, 328) if c == 0 else (408, 663)
        xkey = "xaxis" if k == 1 else f"xaxis{k}"
        ykey = "yaxis" if k == 1 else f"yaxis{k}"
        xdict = dict(domain=[pxx(x0), pxx(x1)], range=[0, 300], showgrid=False, zeroline=False)
        if r == len(ROWS) - 1:
            xdict.update(visible=True, anchor="free", position=pxy(1237), showline=True, linecolor="black",
                         linewidth=2, ticks="inside", ticklen=6, tickwidth=2, tickcolor="black",
                         tickvals=PHASE_BOUNDS, showticklabels=False)
        else:
            xdict.update(visible=False, anchor=ya)
        layout_axes[xkey] = xdict
        tv = list(range(rng[0], rng[1] + 1, 15))
        layout_axes[ykey] = dict(
            domain=[pxy(bot), pxy(top)], range=rng, anchor="free", position=pxx(62 if c == 0 else 400),
            showline=True, linecolor="black", linewidth=1.8, ticks="outside", ticklen=5, tickwidth=1.8,
            tickcolor="black", tickvals=tv, ticktext=[str(v) for v in tv], showgrid=False, zeroline=False,
            tickfont=dict(family=FONT, size=16, color="black"))

        green = go.Scatter(x=[0, 60, None, 60, train_end, None, 260, 300],
                           y=[0, 0, None, PERTURB, PERTURB, None, 0, 0], mode="lines",
                           line=dict(color=GREEN, width=6))
        if c == 0:
            rx = seq(0, d["ib"]) + seq(60, d["it"]) + seq(160, d["ic"]) + seq(260, d["iw"])
            ry = d["ib"] + d["it"] + d["ic"] + d["iw"]
            add(go.Scatter(x=rx, y=ry, mode="markers", cliponaxis=False,
                           marker=dict(size=DOT, color=BLUE)), xa, ya)
            add(go.Scatter(x=seq(60, d["it"]), y=[v + PERTURB for v in d["it"]], mode="markers",
                           cliponaxis=False, marker=dict(size=DOT, color=RED)), xa, ya)
            if isinstance(d["cur"], list):
                add(go.Scatter(x=seq(160, d["cur"]), y=d["cur"], mode="markers", cliponaxis=False,
                               marker=dict(size=DOT, color=RED)), xa, ya)
            elif d["cur"] is not None:
                add(go.Scatter(x=[160, 260], y=[d["cur"], d["cur"]], mode="lines",
                               line=dict(color=RED, width=2.5)), xa, ya)
            add(green, xa, ya)
            add(go.Scatter(x=d["imt"], y=d["imv"], mode="lines", line=dict(color=BLACK, width=2.5)), xa, ya)
        else:
            gx = seq(0, d["gb"]) + seq(60, d["gt"]) + seq(160, d["gc"]) + seq(260, d["gw"])
            gy = d["gb"] + d["gt"] + d["gc"] + d["gw"]
            se = [d["gse"][int(x // 10)] for x in gx]
            if d["gmse"]:
                mt = [t for t in d["gmt"] if 160 <= t <= 260]
                mv = [v for t, v in zip(d["gmt"], d["gmv"]) if 160 <= t <= 260]
                add(go.Scatter(x=mt + mt[::-1], y=[v + d["gmse"] for v in mv] + [v - d["gmse"] for v in mv[::-1]],
                               mode="lines", fill="toself", fillcolor="rgba(110,110,110,0.6)",
                               line=dict(width=0)), xa, ya)
            add(go.Scatter(x=gx + gx[::-1], y=[v + s for v, s in zip(gy, se)] + [v - s for v, s in zip(gy, se)][::-1],
                           mode="lines", fill="toself", fillcolor="rgba(85,135,215,0.6)",
                           line=dict(width=0)), xa, ya)
            tx = seq(60, d["gt"])
            ty = [v + PERTURB for v in d["gt"]]
            tse = [d["gse"][int(x // 10)] for x in tx]
            add(go.Scatter(x=tx + tx[::-1], y=[v + s for v, s in zip(ty, tse)] + [v - s for v, s in zip(ty, tse)][::-1],
                           mode="lines", fill="toself", fillcolor="rgba(245,120,130,0.5)",
                           line=dict(width=0)), xa, ya)
            add(go.Scatter(x=gx, y=gy, mode="lines+markers", cliponaxis=False,
                           line=dict(color=BLUE_LINE, width=1), marker=dict(size=2.8, color=BLUE_DARK)), xa, ya)
            add(go.Scatter(x=tx, y=ty, mode="lines+markers", cliponaxis=False,
                           line=dict(color=RED, width=1), marker=dict(size=2.6, color=RED_DARK)), xa, ya)
            if isinstance(d["cur"], list):
                add(go.Scatter(x=seq(160, d["cur"]), y=d["cur"], mode="markers", cliponaxis=False,
                               marker=dict(size=DOT, color=RED)), xa, ya)
            elif d["cur"] is not None:
                add(go.Scatter(x=[160, 260], y=[d["cur"], d["cur"]], mode="lines",
                               line=dict(color=RED, width=2.5)), xa, ya)
            add(green, xa, ya)
            add(go.Scatter(x=d["gmt"], y=d["gmv"], mode="lines", line=dict(color=BLACK, width=2)), xa, ya)

    ann(letter, 9, row["letter_y"], size=19)
    ann("Angle (deg)", 17, row.get("title_y", row["zero"]), size=16, bold=False, angle=-90)
    ann(CONDITIONS[r], 402, row["cond_y"], color=TAN, xanchor="left")

ann("Individual subjects", 220, 10)
ann("Group data", 524, 10)
ann("Reach angle", 133, 39, color=BLUE)
ann("Model", 336, 60)
ann("Cursor", 308, 155, color=RED)
ann("Perturbation", 263, 200, color=GREEN)

for x0 in (73, 408):
    for cnt, name, ctr in zip(PHASE_COUNTS, PHASE_NAMES, PHASE_CENTERS):
        xpx = x0 + ctr * (255 / 300)
        ann(cnt, xpx, 1249, bold=False)
        ann(name, xpx, 1268, bold=False)

fig.update_layout(width=W, height=H, margin=dict(l=0, r=0, t=0, b=0), paper_bgcolor="white",
                  plot_bgcolor="rgba(0,0,0,0)", showlegend=False, annotations=annotations,
                  font=dict(family=FONT), **layout_axes)
fig.write_html("out.html", config={"displayModeBar": False},
               post_script="document.body.style.margin='0';document.body.style.overflow='hidden';")
